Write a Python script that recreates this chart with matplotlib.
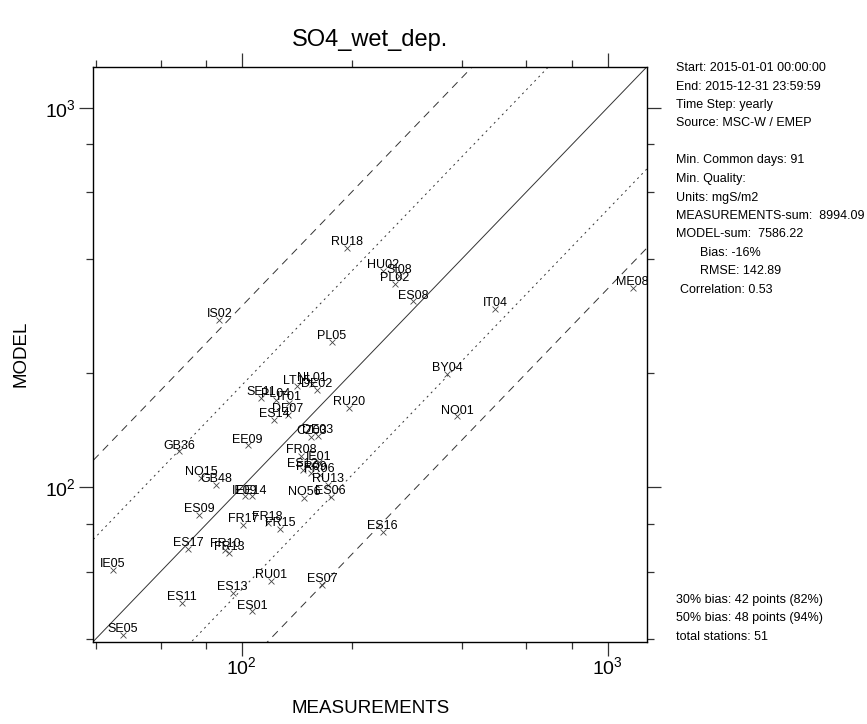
import numpy as np
import matplotlib
matplotlib.use("Agg")
import matplotlib.pyplot as plt
from matplotlib.ticker import LogLocator, NullFormatter

plt.rcParams['font.family'] = ['Liberation Sans', 'DejaVu Sans']
plt.rcParams['mathtext.default'] = 'regular'

# yearly SO4 wet deposition per station, mgS/m2
stations = ["RU18", "IS02", "PL05", "HU02", "SI08", "PL02", "ES08", "IT04", "BY04",
            "NO01", "ME08", "ES16", "LT15", "NL01", "DE02", "SE11", "PL04", "IT01",
            "DE07", "ES14", "RU20", "CZ03", "DE03", "EE09", "GB36", "FR08", "IE01",
            "ES12", "FR09", "FR06", "RU13", "NO56", "ES06", "NO15", "GB48", "IE09",
            "EE14", "ES09", "FR17", "FR18", "FR15", "ES17", "FR10", "FR13", "IE05",
            "RU01", "ES07", "ES13", "ES11", "ES01", "SE05"]
meas = [194.0, 86.9, 176.4, 243.0, 270.0, 262.0, 294.0, 494.0, 364.0,
        388.0, 1171.0, 243.0, 141.5, 156.0, 160.6, 113.0, 124.2, 135.0,
        133.6, 122.9, 196.0, 155.0, 161.5, 103.8, 67.5, 145.4, 162.5,
        146.9, 155.0, 163.3, 172.0, 147.9, 175.0, 77.4, 85.1, 102.2,
        106.5, 76.6, 101.1, 117.8, 127.6, 71.5, 90.2, 92.5, 44.5,
        120.4, 165.6, 94.5, 68.5, 106.8, 47.4]
model = [428.0, 276.0, 242.0, 372.0, 361.0, 343.0, 309.0, 295.0, 199.0,
         153.8, 335.0, 76.3, 184.5, 187.5, 180.7, 172.0, 170.0, 166.7,
         155.0, 150.7, 161.9, 136.0, 136.8, 129.0, 124.4, 121.2, 116.4,
         111.3, 109.1, 108.0, 101.6, 93.8, 94.3, 105.9, 101.6, 94.7,
         94.7, 84.7, 79.8, 80.6, 77.9, 68.9, 68.5, 67.4, 60.7,
         56.8, 55.5, 52.7, 49.6, 47.2, 41.0]

info_top = ["Start: 2015-01-01 00:00:00", "End: 2015-12-31 23:59:59",
            "Time Step: yearly", "Source: MSC-W / EMEP", "",
            "Min. Common days: 91", "Min. Quality:", "Units: mgS/m2",
            "MEASUREMENTS-sum:  8994.09", "MODEL-sum:  7586.22"]
info_stats = ["Bias: -16%", "RMSE: 142.89"]
info_corr = "Correlation: 0.53"
info_bottom = ["30% bias: 42 points (82%)", "50% bias: 48 points (94%)",
               "total stations: 51"]

lims = (39.3, 1282.0)
W, H = 867, 724

fig = plt.figure(figsize=(W / 100, H / 100), dpi=100)
ax = fig.add_axes([93.3 / W, 1 - 641.5 / H, (647 - 93.3) / W, (641.5 - 66.7) / H])
ax.set_xscale('log')
ax.set_yscale('log')
ax.set_xlim(lims)
ax.set_ylim(lims)

# 1:1 line, fractional bias 0.6 (dotted) and 1.0 (dashed) envelopes
xs = np.array(lims)
lc = '#333333'
ax.plot(xs, xs, '-', color=lc, lw=0.7)
for f in (1.3 / 0.7, 0.7 / 1.3):
    ax.plot(xs, xs * f, color=lc, lw=0.7, dashes=(2, 4))
for f in (3.0, 1 / 3.0):
    ax.plot(xs, xs * f, color=lc, lw=0.7, dashes=(8, 6))

ax.scatter(meas, model, marker='x', s=18, color='#444444', linewidths=0.6, zorder=3)
for name, mx, my in zip(stations, meas, model):
    ax.annotate(name, (mx, my), xytext=(0, 2), textcoords='offset points',
                ha='center', va='baseline', fontsize=9, zorder=4)

ax.xaxis.set_major_locator(LogLocator(base=10))
ax.yaxis.set_major_locator(LogLocator(base=10))
ax.xaxis.set_minor_locator(LogLocator(base=10, subs=(2, 4, 6, 8)))
ax.yaxis.set_minor_locator(LogLocator(base=10, subs=(2, 4, 6, 8)))
ax.xaxis.set_minor_formatter(NullFormatter())
ax.yaxis.set_minor_formatter(NullFormatter())
ax.tick_params(which='both', direction='out', top=True, right=True,
               color='#333333', width=0.9)
ax.tick_params(which='major', length=10, labelsize=14)
ax.tick_params(which='minor', length=5)
ax.tick_params(axis='x', which='major', pad=0.5)
ax.tick_params(axis='y', which='major', pad=2.5)
for s in ax.spines.values():
    s.set_linewidth(1.0)

ax.set_xlabel("MEASUREMENTS", fontsize=13.5, labelpad=16)
ax.set_ylabel("MODEL", fontsize=13.5, labelpad=11)
fig.text(370 / W, 1 - 40 / H, "SO4_wet_dep.", ha='center', va='center', fontsize=17)

# statistics panel on the right
step = 18.5
y0 = 68
for i, line in enumerate(info_top):
    fig.text(676 / W, 1 - (y0 + i * step) / H, line, fontsize=9, va='center')
for j, line in enumerate(info_stats):
    fig.text(700 / W, 1 - (y0 + (len(info_top) + j) * step) / H, line,
             fontsize=9, va='center')
fig.text(680 / W, 1 - (y0 + (len(info_top) + 2) * step) / H, info_corr,
         fontsize=9, va='center')
for k, line in enumerate(info_bottom):
    fig.text(676 / W, 1 - (600 + k * step) / H, line, fontsize=9, va='center')

fig.savefig("out.png", dpi=100)
